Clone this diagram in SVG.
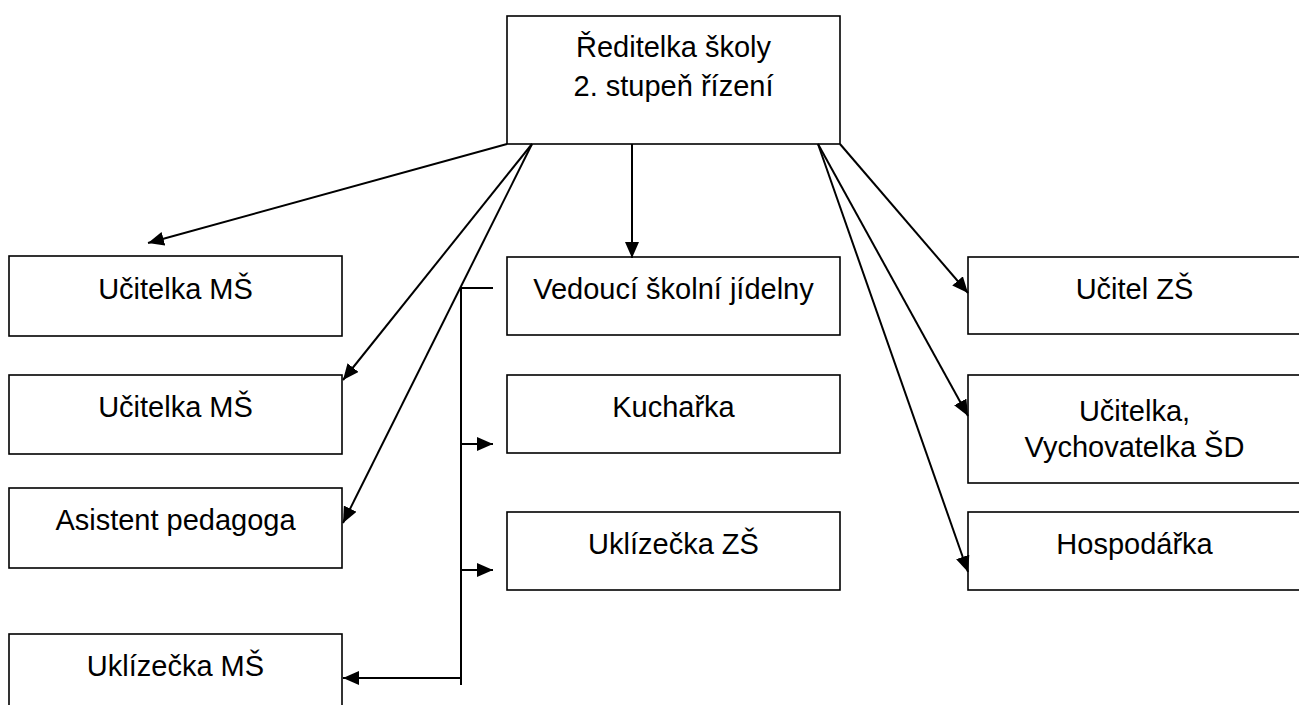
<svg xmlns="http://www.w3.org/2000/svg" width="1299" height="705" viewBox="0 0 1299 705">
<style>
.box{fill:#fff;stroke:#000;stroke-width:1.6}
.t{font-family:"Liberation Sans",Arial,sans-serif;font-size:29px;fill:#000;text-anchor:middle}
.c{fill:none;stroke:#000;stroke-width:2}
</style>
<defs>
<marker id="ah" markerUnits="userSpaceOnUse" markerWidth="18" markerHeight="14" refX="16" refY="7" orient="auto">
<path d="M0,0 L16,7 L0,14 Z" fill="#000"/>
</marker>
</defs>
<rect width="1299" height="705" fill="#fff"/>
<g id="n-reditelka"><rect class="box" x="507" y="16" width="333" height="128"/><text class="t" x="673.5" y="57">Ředitelka školy</text><text class="t" x="673.5" y="96">2. stupeň řízení</text></g>
<g id="n-ucitelka-ms-1"><rect class="box" x="9" y="256" width="333" height="80"/><text class="t" x="175.5" y="299">Učitelka MŠ</text></g>
<g id="n-ucitelka-ms-2"><rect class="box" x="9" y="375" width="333" height="79"/><text class="t" x="175.5" y="417">Učitelka MŠ</text></g>
<g id="n-asistent"><rect class="box" x="9" y="488" width="333" height="80"/><text class="t" x="175.5" y="530">Asistent pedagoga</text></g>
<g id="n-uklizecka-ms"><rect class="box" x="9" y="634" width="333" height="80"/><text class="t" x="175.5" y="676">Uklízečka MŠ</text></g>
<g id="n-vedouci"><rect class="box" x="507" y="257" width="333" height="78"/><text class="t" x="673.5" y="299">Vedoucí školní jídelny</text></g>
<g id="n-kucharka"><rect class="box" x="507" y="375" width="333" height="78"/><text class="t" x="673.5" y="417">Kuchařka</text></g>
<g id="n-uklizecka-zs"><rect class="box" x="507" y="512" width="333" height="78"/><text class="t" x="673.5" y="554">Uklízečka ZŠ</text></g>
<g id="n-ucitel-zs"><rect class="box" x="968" y="257" width="333" height="77"/><text class="t" x="1134.5" y="299">Učitel ZŠ</text></g>
<g id="n-vychovatelka"><rect class="box" x="968" y="375" width="333" height="108"/><text class="t" x="1134.5" y="421">Učitelka,</text><text class="t" x="1134.5" y="457">Vychovatelka ŠD</text></g>
<g id="n-hospodarka"><rect class="box" x="968" y="512" width="333" height="78"/><text class="t" x="1134.5" y="554">Hospodářka</text></g>
<g id="connectors">
<line class="c" x1="507" y1="144" x2="148" y2="243" marker-end="url(#ah)"/>
<line class="c" x1="532" y1="144" x2="343" y2="380" marker-end="url(#ah)"/>
<line class="c" x1="532" y1="144" x2="343" y2="523" marker-end="url(#ah)"/>
<line class="c" x1="632" y1="144" x2="632" y2="258" marker-end="url(#ah)"/>
<line class="c" x1="840" y1="144" x2="968" y2="293" marker-end="url(#ah)"/>
<line class="c" x1="818" y1="144" x2="968" y2="416" marker-end="url(#ah)"/>
<line class="c" x1="818" y1="144" x2="968" y2="572" marker-end="url(#ah)"/>
<polyline class="c" points="493,288 461,288 461,685"/>
<line class="c" x1="461" y1="444" x2="493" y2="444" marker-end="url(#ah)"/>
<line class="c" x1="461" y1="570" x2="493" y2="570" marker-end="url(#ah)"/>
<line class="c" x1="461" y1="678" x2="343" y2="678" marker-end="url(#ah)"/>
</g>
</svg>
